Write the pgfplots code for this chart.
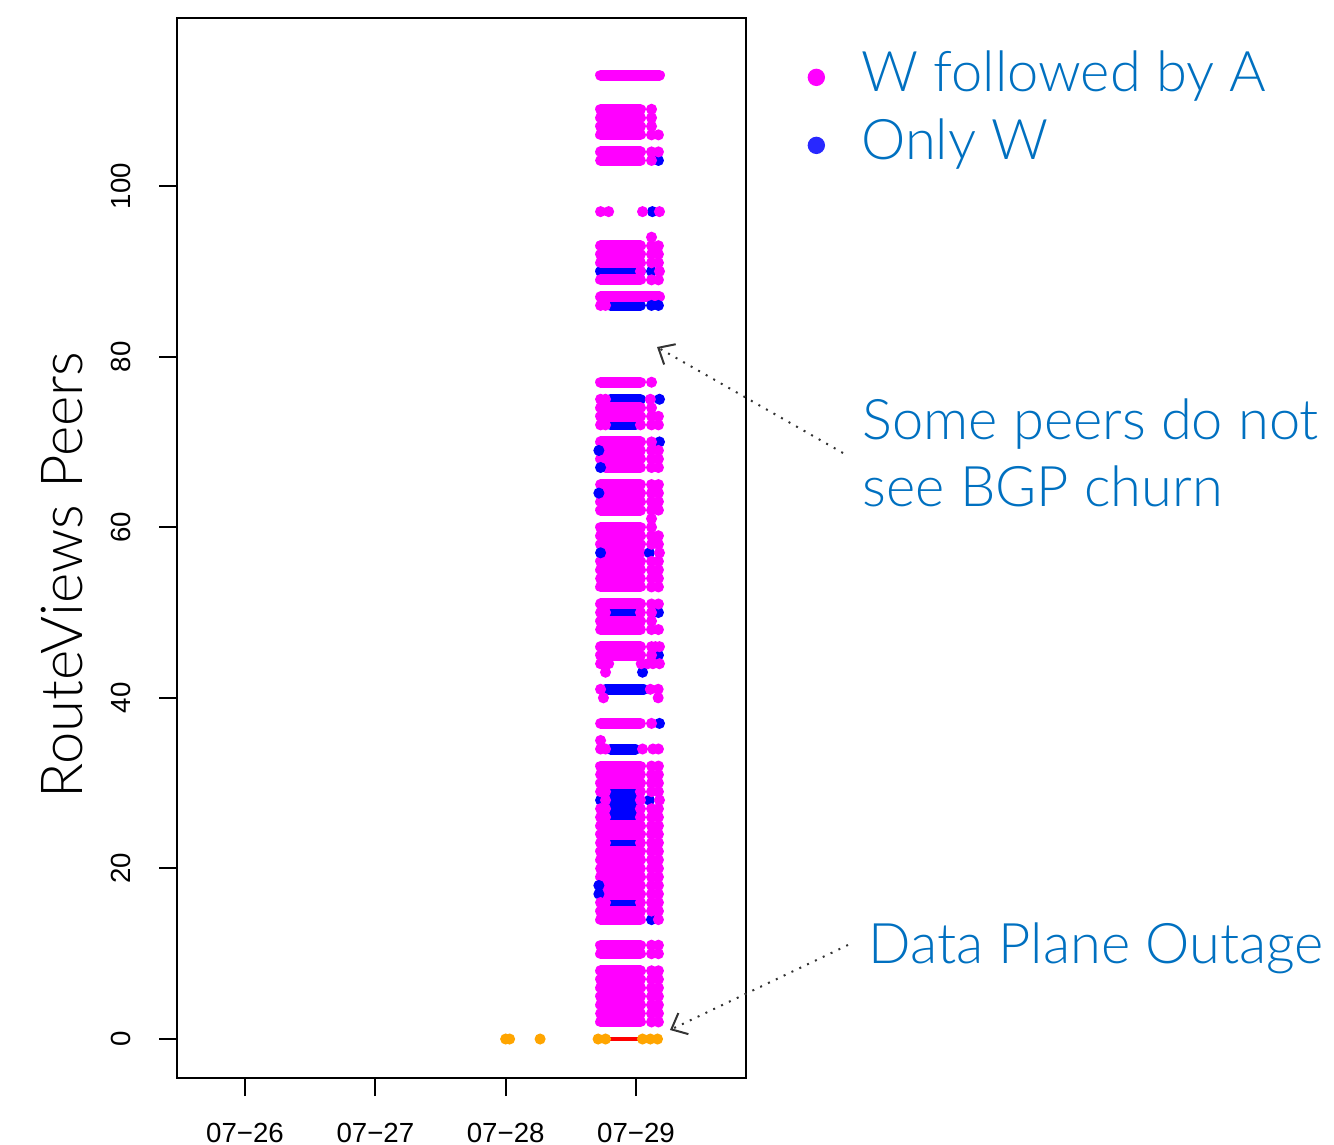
\documentclass[border=0pt]{standalone}
\usepackage{fontspec}
\setmainfont{Liberation Sans}
\newfontfamily\lightfont{Lato Light}
\usepackage{pgfplots}
\pgfplotsset{compat=1.18}
\usetikzlibrary{arrows.meta}
\definecolor{mag}{RGB}{255,0,255}
\definecolor{blu}{RGB}{0,0,255}
\definecolor{legblu}{RGB}{40,40,255}
\definecolor{org}{RGB}{255,165,0}
\definecolor{txtblue}{RGB}{0,112,192}
\begin{document}
\begin{tikzpicture}
\useasboundingbox (0,0) rectangle (400.2pt,343.2pt);
\begin{axis}[
  at={(53.1pt,19.8pt)}, anchor=south west,
  scale only axis, width=170.7pt, height=318pt,
  xmin=25.478, xmax=29.844, ymin=-4.572, ymax=119.70,
  xtick={26,27,28,29}, xticklabels={07−26,07−27,07−28,07−29},
  ytick={0,20,40,60,80,100}, yticklabels={0,20,40,60,80,100},
  xtick pos=bottom, ytick pos=left,
  tick align=outside, major tick length=5.4pt,
  tick style={black, line width=0.6pt},
  axis line style={line width=0.6pt},
  ticklabel style={font=\fontsize{8.3}{10}\selectfont},
  yticklabel style={rotate=90, anchor=south},
  yticklabel shift=5pt, xticklabel shift=4.5pt,
  clip=false,
  unbounded coords=jump,
  legend cell align=left,
  legend style={at={(axis description cs:1.1072,0.9690)}, anchor=north west,
    draw=none, fill=none, inner sep=0pt, row sep=4.9pt,
    nodes={inner sep=0pt, text height=12pt, text depth=3.5pt},
    font=\lightfont\fontsize{16.8}{20}\selectfont, text=txtblue},
]
% blue segments (Only W)
\addplot[blu, line width=3.3pt, line cap=round, forget plot] coordinates {
(28.728,90)(29.034,90) (nan,nan)
(28.805,86)(29.034,86) (nan,nan)
(28.805,75)(29.034,75) (nan,nan)
(28.805,72)(28.996,72) (nan,nan)
(28.805,50)(28.996,50) (nan,nan)
(28.766,41)(29.060,41) (nan,nan)
(28.805,34)(28.996,34) (nan,nan)
(28.805,29)(28.996,29) (nan,nan)
(28.805,28)(28.996,28) (nan,nan)
(28.805,27)(28.996,27) (nan,nan)
(28.805,26)(28.996,26) (nan,nan)
(28.805,23)(28.996,23) (nan,nan)
(28.805,16)(28.996,16)
};
% blue points
\addplot[only marks, blu, mark=*, mark size=1.45pt, forget plot] coordinates {
(28.715,69) (28.715,64) (28.715,18) (28.715,17)
(28.728,67) (28.728,57) (28.728,28)
(29.172,103) (29.126,97) (29.119,90) (29.119,86) (29.172,86)
(29.180,75) (29.180,70) (29.103,57) (29.172,50) (29.172,45)
(29.050,43) (29.180,37) (29.103,28) (29.119,14)
};
% magenta segments (W followed by A)
\addplot[mag, line width=3.3pt, line cap=round, forget plot] coordinates {
(28.728,113)(29.180,113) (nan,nan)
(28.728,109)(29.034,109) (nan,nan)
(28.728,108)(29.034,108) (nan,nan)
(28.728,107)(29.034,107) (nan,nan)
(28.728,106)(29.034,106) (nan,nan)
(28.728,104)(29.034,104) (nan,nan)
(28.728,103)(29.034,103) (nan,nan)
(28.728,93)(29.034,93) (nan,nan)
(28.728,92)(29.034,92) (nan,nan)
(28.728,91)(29.034,91) (nan,nan)
(28.728,89)(29.034,89) (nan,nan)
(28.728,87)(29.180,87) (nan,nan)
(28.728,77)(29.034,77) (nan,nan)
(28.728,74)(29.034,74) (nan,nan)
(28.728,73)(29.034,73) (nan,nan)
(28.728,70)(29.034,70) (nan,nan)
(28.728,69)(29.034,69) (nan,nan)
(28.728,68)(29.034,68) (nan,nan)
(28.766,67)(29.034,67) (nan,nan)
(28.728,65)(29.034,65) (nan,nan)
(28.728,64)(29.034,64) (nan,nan)
(28.728,63)(29.034,63) (nan,nan)
(28.728,62)(29.034,62) (nan,nan)
(28.728,60)(29.034,60) (nan,nan)
(28.728,59)(29.034,59) (nan,nan)
(28.728,58)(29.034,58) (nan,nan)
(28.766,57)(29.034,57) (nan,nan)
(28.728,56)(29.034,56) (nan,nan)
(28.728,55)(29.034,55) (nan,nan)
(28.728,54)(29.034,54) (nan,nan)
(28.728,53)(29.034,53) (nan,nan)
(28.728,51)(29.034,51) (nan,nan)
(28.728,49)(29.034,49) (nan,nan)
(28.728,48)(29.034,48) (nan,nan)
(28.728,46)(29.034,46) (nan,nan)
(28.728,45)(29.034,45) (nan,nan)
(28.728,37)(29.034,37) (nan,nan)
(28.728,32)(29.034,32) (nan,nan)
(28.728,31)(29.034,31) (nan,nan)
(28.728,30)(29.034,30) (nan,nan)
(28.728,25)(29.034,25) (nan,nan)
(28.728,24)(29.034,24) (nan,nan)
(28.728,22)(29.034,22) (nan,nan)
(28.728,21)(29.034,21) (nan,nan)
(28.728,20)(29.034,20) (nan,nan)
(28.728,19)(29.034,19) (nan,nan)
(28.728,18)(29.034,18) (nan,nan)
(28.728,17)(29.034,17) (nan,nan)
(28.728,15)(29.034,15) (nan,nan)
(28.728,14)(29.034,14) (nan,nan)
(28.728,11)(29.034,11) (nan,nan)
(28.728,10)(29.034,10) (nan,nan)
(28.728,8)(29.034,8) (nan,nan)
(28.728,7)(29.034,7) (nan,nan)
(28.728,6)(29.034,6) (nan,nan)
(28.728,5)(29.034,5) (nan,nan)
(28.728,4)(29.034,4) (nan,nan)
(28.728,3)(29.034,3) (nan,nan)
(28.728,2)(29.034,2)
};
% magenta points
\addplot[only marks, mag, mark=*, mark size=1.45pt, forget plot] coordinates {
(29.119,106)(29.172,106) (29.119,104)(29.172,104)
(29.119,93)(29.172,93) (29.119,92)(29.172,92) (29.119,91)(29.172,91) (29.119,89)(29.172,89)
(29.119,73)(29.172,73) (29.119,69)(29.172,69) (29.119,68)(29.172,68) (29.119,67)(29.172,67)
(29.119,65)(29.172,65) (29.119,64)(29.172,64) (29.119,63)(29.172,63) (29.119,62)(29.172,62)
(29.119,59)(29.172,59) (29.119,58)(29.172,58) (29.119,56)(29.172,56) (29.119,55)(29.172,55)
(29.119,54)(29.172,54) (29.119,53)(29.172,53) (29.119,51)(29.172,51) (29.119,48)(29.172,48)
(29.119,32)(29.172,32) (29.119,31)(29.172,31) (29.119,30)(29.172,30) (29.119,25)(29.172,25)
(29.119,24)(29.172,24) (29.119,22)(29.172,22) (29.119,21)(29.172,21) (29.119,20)(29.172,20)
(29.119,19)(29.172,19) (29.119,18)(29.172,18) (29.119,17)(29.172,17) (29.119,15)(29.172,15)
(29.119,11)(29.172,11) (29.119,10)(29.172,10) (29.119,8)(29.172,8) (29.119,7)(29.172,7)
(29.119,6)(29.172,6) (29.119,5)(29.172,5) (29.119,4)(29.172,4) (29.119,3)(29.172,3) (29.119,2)(29.172,2)
(29.119,72)(29.172,72) (29.119,29)(29.172,29) (29.119,27)(29.172,27) (29.119,26)(29.172,26)
(29.119,23)(29.172,23) (29.119,16)(29.172,16)
(29.119,109) (29.119,108) (29.119,107) (29.119,77) (29.119,74) (29.119,60) (29.119,49)
(29.119,61) (29.119,94) (29.119,103) (29.119,70) (29.119,45) (29.119,37) (29.119,50)
(29.172,14)
(29.119,46) (29.149,46) (29.180,46)
(28.728,97) (28.790,97) (29.050,97) (29.180,97)
(29.034,90) (29.180,90)
(28.728,86) (28.766,86)
(28.728,75) (28.766,75) (29.110,75)
(28.728,72) (28.766,72) (29.034,72)
(28.728,50) (28.766,50) (29.034,50)
(28.728,44) (28.790,44) (29.040,44) (29.090,44) (29.130,44) (29.180,44)
(28.766,43)
(28.728,41) (29.110,41) (29.170,41)
(28.750,40) (29.170,40)
(28.728,35)
(28.728,34) (28.766,34) (29.050,34) (29.130,34) (29.172,34)
(28.728,29) (28.766,29) (29.034,29)
(28.728,27) (28.766,27) (29.034,27)
(28.728,26) (28.766,26) (29.034,26)
(28.728,23) (28.766,23) (29.034,23)
(28.728,16) (28.766,16) (29.034,16)
(28.766,28) (29.034,28) (29.180,28)
(29.180,57)
};
% data plane outage (row 0)
\addplot[only marks, org, mark=*, mark size=1.45pt, forget plot] coordinates {
(28.000,0) (28.030,0) (28.264,0) (28.709,0) (28.766,0) (29.050,0) (29.110,0) (29.165,0)
};
\addplot[red, line width=1pt, forget plot] coordinates {(28.760,0) (29.030,0)};
% legend
\addlegendimage{legend image code/.code={\fill[mag] (0pt,0pt) circle (2.4pt); \path[draw=none] (-2.4pt,0pt) -- (13.5pt,0pt);}}
\addlegendentry{W followed by A}
\addlegendimage{legend image code/.code={\fill[legblu] (0pt,0pt) circle (2.4pt); \path[draw=none] (-2.4pt,0pt) -- (13.5pt,0pt);}}
\addlegendentry{Only W}
% labels and annotations
\node[rotate=90, font=\lightfont\fontsize{17.4}{20}\selectfont] at (axis description cs:-0.2021,0.4745) {RouteViews Peers};
\node[anchor=base west, inner sep=0pt, font=\lightfont\fontsize{16.8}{20}\selectfont, text=txtblue] at (axis description cs:1.2039,0.6019) {Some peers do not};
\node[anchor=base west, inner sep=0pt, font=\lightfont\fontsize{16.8}{20}\selectfont, text=txtblue] at (axis description cs:1.2039,0.5387) {see BGP churn};
\node[anchor=base west, inner sep=0pt, font=\lightfont\fontsize{16.8}{20}\selectfont, text=txtblue] at (axis description cs:1.2144,0.1085) {Data Plane Outage};
\draw[dotted, line width=0.6pt, black!80, -{Straight Barb[length=4pt,width=7pt,line width=0.6pt]}] (axis description cs:1.1705,0.5896) -- (axis description cs:0.8436,0.6896);
\draw[dotted, line width=0.6pt, black!80, -{Straight Barb[length=4pt,width=7pt,line width=0.6pt]}] (axis description cs:1.1793,0.1255) -- (axis description cs:0.8664,0.0453);
\end{axis}
\end{tikzpicture}
\end{document}
